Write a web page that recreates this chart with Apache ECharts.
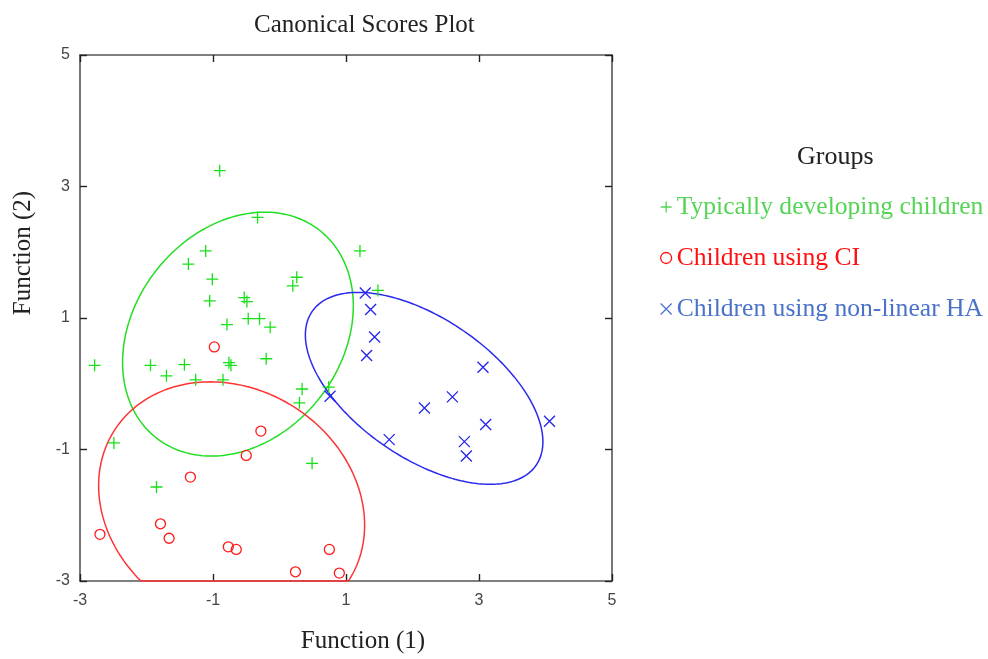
<!DOCTYPE html>
<html>
<head>
<meta charset="utf-8">
<script src="https://cdn.jsdelivr.net/npm/echarts@6/dist/echarts.min.js"></script>
<style>
  html, body { margin: 0; padding: 0; background: #fff; }
  #chart { width: 988px; height: 659px; }
</style>
</head>
<body>
<div id="chart"></div>
<script>
// Canonical discriminant scores (Function 1, Function 2) per group
const groupNames = [
  'Typically developing children',
  'Children using CI',
  'Children using non-linear HA'
];

const typicallyDeveloping = [
  [-0.90, 3.24], [-0.33, 2.53], [1.21, 2.02], [-1.11, 2.02], [-1.37, 1.82],
  [-1.01, 1.59], [0.26, 1.62], [0.20, 1.49], [-1.05, 1.26], [-0.53, 1.31],
  [-0.49, 1.25], [-0.47, 0.99], [-0.30, 0.99], [-0.79, 0.90], [-0.14, 0.86],
  [-2.78, 0.28], [-1.94, 0.28], [-1.43, 0.29], [-1.70, 0.12], [-0.76, 0.32],
  [-0.73, 0.28], [-0.20, 0.38], [-1.26, 0.06], [-0.85, 0.06], [0.34, -0.08],
  [0.74, -0.05], [1.48, 1.42], [0.30, -0.29], [-2.49, -0.90], [0.49, -1.21],
  [-1.85, -1.57]
];

const usingCI = [
  [-0.98, 0.56], [-0.28, -0.72], [-0.50, -1.09], [-1.34, -1.42], [-2.70, -2.29],
  [-1.79, -2.13], [-1.66, -2.35], [-0.77, -2.48], [-0.65, -2.52], [0.75, -2.52],
  [0.24, -2.86], [0.90, -2.88]
];

const usingNonLinearHA = [
  [1.29, 1.38], [1.37, 1.13], [1.43, 0.71], [1.31, 0.43], [3.06, 0.25],
  [2.60, -0.20], [0.76, -0.19], [2.18, -0.37], [4.06, -0.57], [3.10, -0.62],
  [1.65, -0.85], [2.78, -0.88], [2.81, -1.10]
];

// Group ellipses: [centre x, centre y, var x, var y, cov xy]
const ellipseTD = [-0.625, 0.755, 3.01, 3.44, 0.745];
const ellipseCI = [-0.72, -1.85, 4.0, 3.53, -0.6];
const ellipseHA = [2.175, -0.07, 3.19, 2.13, -1.45];

const axisMin = -3;
const axisMax = 5;
const tickStep = 2;

const colors = {
  td: '#18e018', ci: '#ff1a1a', ha: '#2424ee',
  tdText: '#55d455', ciText: '#ff1010', haText: '#4a72c8'
};

const plusPath = 'path://M5,0 L5,10 M0,5 L10,5';
const crossPath = 'path://M0,0 L10,10 M10,0 L0,10';

// Outline of an ellipse from its centre and covariance, flattened onto the frame edge
function ellipseOutline(p) {
  const [cx, cy, vx, vy, cxy] = p;
  const sx = Math.sqrt(vx);
  const k = cxy / sx;
  const r = Math.sqrt(vy - (cxy * cxy) / vx);
  const pts = [];
  const n = 240;
  for (let i = 0; i <= n; i++) {
    const t = (i / n) * Math.PI * 2;
    const x = cx + sx * Math.cos(t);
    const y = cy + k * Math.cos(t) + r * Math.sin(t);
    pts.push([x, Math.max(axisMin, Math.min(axisMax, y))]);
  }
  return pts;
}

const sansFont = '"Liberation Sans", Arial, sans-serif';
const serifFont = '"Liberation Serif", "Times New Roman", serif';

const frameLine = { show: true, onZero: false, lineStyle: { color: '#555', width: 1.6 } };
const innerTick = { show: true, inside: true, length: 7, lineStyle: { color: '#222', width: 1.4 } };

function ellipseSeries(name, p, color) {
  return {
    name: name,
    type: 'line',
    data: ellipseOutline(p),
    showSymbol: false,
    smooth: false,
    silent: true,
    clip: false,
    lineStyle: { color: color, width: 1.5 },
    z: 3
  };
}

function scatterSeries(name, data, symbol, size, color, width) {
  return {
    name: name,
    type: 'scatter',
    data: data,
    symbol: symbol,
    symbolSize: size,
    itemStyle: { color: 'rgba(0,0,0,0)', borderColor: color, borderWidth: width, opacity: 1 },
    z: 4
  };
}

const chart = echarts.init(document.getElementById('chart'), null, { renderer: 'canvas' });

chart.setOption({
  backgroundColor: '#fff',
  animation: false,
  title: [
    {
      text: 'Canonical Scores Plot',
      left: 249, top: 8,
      textStyle: { fontFamily: serifFont, fontSize: 25, fontWeight: 'normal', color: '#222' }
    },
    {
      text: 'Groups',
      left: 792, top: 139,
      textStyle: { fontFamily: serifFont, fontSize: 26, fontWeight: 'normal', color: '#222' }
    }
  ],
  legend: {
    orient: 'vertical',
    left: 655, top: 187,
    itemWidth: 11, itemHeight: 11,
    itemGap: 21,
    selectedMode: false,
    textStyle: { fontFamily: serifFont, fontSize: 25.6, lineHeight: 30 },
    data: [
      { name: groupNames[0], icon: plusPath,
        itemStyle: { color: 'rgba(0,0,0,0)', borderColor: colors.tdText, borderWidth: 1.3 },
        textStyle: { color: colors.tdText } },
      { name: groupNames[1], icon: 'circle',
        itemStyle: { color: 'rgba(0,0,0,0)', borderColor: colors.ciText, borderWidth: 1.3 },
        textStyle: { color: colors.ciText } },
      { name: groupNames[2], icon: crossPath,
        itemStyle: { color: 'rgba(0,0,0,0)', borderColor: colors.haText, borderWidth: 1.2 },
        textStyle: { color: colors.haText } }
    ]
  },
  grid: { left: 80, top: 55, width: 532, height: 532, containLabel: false },
  xAxis: [
    {
      type: 'value', min: axisMin, max: axisMax, interval: tickStep,
      position: 'bottom',
      name: 'Function (1)', nameLocation: 'middle', nameGap: 48,
      nameTextStyle: { fontFamily: serifFont, fontSize: 25, color: '#222', padding: [0, 0, 0, 34] },
      axisLine: frameLine, axisTick: innerTick, splitLine: { show: false },
      axisLabel: { color: '#444', fontFamily: sansFont, fontSize: 16, margin: 12 }
    },
    {
      type: 'value', min: axisMin, max: axisMax, interval: tickStep,
      position: 'top',
      axisLine: frameLine, axisTick: innerTick, splitLine: { show: false },
      axisLabel: { show: false }
    }
  ],
  yAxis: [
    {
      type: 'value', min: axisMin, max: axisMax, interval: tickStep,
      position: 'left',
      name: 'Function (2)', nameLocation: 'middle', nameGap: 44,
      nameTextStyle: { fontFamily: serifFont, fontSize: 25, color: '#222', padding: [0, 0, 0, 130] },
      axisLine: frameLine, axisTick: innerTick, splitLine: { show: false },
      axisLabel: { color: '#444', fontFamily: sansFont, fontSize: 16, margin: 10 }
    },
    {
      type: 'value', min: axisMin, max: axisMax, interval: tickStep,
      position: 'right',
      axisLine: frameLine, axisTick: innerTick, splitLine: { show: false },
      axisLabel: { show: false }
    }
  ],
  series: [
    ellipseSeries('ellipse-td', ellipseTD, '#22dd22'),
    ellipseSeries('ellipse-ci', ellipseCI, '#ff3333'),
    ellipseSeries('ellipse-ha', ellipseHA, '#2a2aee'),
    scatterSeries(groupNames[0], typicallyDeveloping, plusPath, 12, colors.td, 1.3),
    scatterSeries(groupNames[1], usingCI, 'circle', 10, colors.ci, 1.3),
    scatterSeries(groupNames[2], usingNonLinearHA, crossPath, 11, colors.ha, 1.3)
  ]
});
</script>
</body>
</html>
